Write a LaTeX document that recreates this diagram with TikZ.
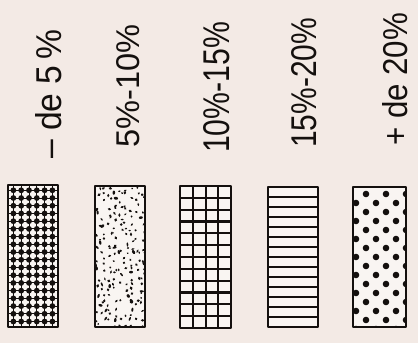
\documentclass[tikz,border=0pt]{standalone}
\usepackage{fontspec}
\setmainfont{Liberation Sans}
\usepackage{graphicx}
\definecolor{paper}{RGB}{243,234,229}
\definecolor{ink}{RGB}{20,16,14}
\begin{document}
\begin{tikzpicture}[x=1bp,y=-1bp,
  frame/.style={draw=ink,line width=2.6bp,line join=round},
  lab/.style={rotate=90,anchor=base west,inner sep=0pt,text=ink}]
\fill[paper] (0,0) rectangle (418,343);
\useasboundingbox (0,0) rectangle (418,343);

% labels
\node[lab] (l1) at (62,159) {\resizebox{129bp}{26bp}{– de 5\,\%}};
\node[lab] (l2) at (140,148) {\resizebox{123bp}{23bp}{5\%-10\%}};
\node[lab] (l3) at (230,153) {\resizebox{131bp}{26bp}{10\%-15\%}};
\node[lab] (l4) at (317,148) {\resizebox{130bp}{25bp}{15\%-20\%}};
\node[lab] (l5) at (407,146) {\resizebox{133bp}{25bp}{+ de 20\%}};

% box 1 : beaded grid
\fill[white!50!paper] (8,185) rectangle (58,327);
\begin{scope}
\clip (8,185) rectangle (58,327);
\foreach \c in {0,...,5}{
  \draw[ink,line width=0.9bp] ({13.4+7.8*\c},185) -- ({13.4+7.8*\c},327);}
\foreach \r in {0,...,17}{
  \draw[ink,line width=0.9bp] (8,{190.3+7.72*\r}) -- (58,{190.3+7.72*\r});
  \foreach \c in {0,...,5}{
    \fill[ink] ({13.4+7.8*\c},{190.3+7.72*\r}) circle (2.9bp);}}
\end{scope}
\node[frame,minimum width=50bp,minimum height=142bp,inner sep=0pt] (b1) at (33,256) {};

% box 2 : speckles (jittered grid)
\fill[white!50!paper] (95,186) rectangle (145,327);
\begin{scope}
\clip (95,186) rectangle (145,327);
\pgfmathsetseed{11}
\foreach \r in {0,...,27}{
  \foreach \c in {0,...,8}{
    \pgfmathsetmacro{\keep}{rnd}
    \pgfmathsetmacro{\px}{96+5.6*\c+4.5*rnd}
    \pgfmathsetmacro{\py}{187+5*\r+4.5*rnd}
    \pgfmathsetmacro{\rx}{1.0+1.2*rnd}
    \pgfmathsetmacro{\ry}{0.8+0.7*rnd}
    \pgfmathsetmacro{\ang}{180*rnd}
    \ifdim\keep pt<0.72pt
      \fill[ink,rotate around={\ang:(\px,\py)}] (\px,\py) ellipse ({\rx bp} and {\ry bp});
    \fi}}
\end{scope}
\node[frame,minimum width=50bp,minimum height=141bp,inner sep=0pt] (b2) at (120,256.5) {};

% box 3 : square grid
\fill[white!50!paper] (180,186) rectangle (231,328);
\foreach \c in {1,2,3}{
  \draw[ink,line width=2bp] ({180+12.75*\c},186) -- ({180+12.75*\c},328);}
\foreach \r in {1,...,11}{
  \draw[ink,line width=2.2bp] (180,{186+11.83*\r}) -- (231,{186+11.83*\r});}
\node[frame,minimum width=51bp,minimum height=142bp,inner sep=0pt] (b3) at (205.5,257) {};

% box 4 : horizontal lines
\fill[white!50!paper] (268,187) rectangle (318,327);
\foreach \r in {1,...,13}{
  \draw[ink,line width=1.8bp] (268,{187+10*\r}) -- (318,{187+10*\r});}
\node[frame,minimum width=50bp,minimum height=140bp,inner sep=0pt] (b4) at (293,257) {};

% box 5 : staggered dots
\fill[white!50!paper] (353,187) rectangle (406,327);
\begin{scope}
\clip (353,187) rectangle (406,327);
\foreach \r in {0,...,15}{
  \pgfmathsetmacro{\off}{mod(\r,2)==0 ? 13 : 3}
  \foreach \c in {0,1,2}{
    \fill[ink] ({353+\off+20*\c},{194+9*\r}) circle (3.3bp);}}
\end{scope}
\node[frame,minimum width=53bp,minimum height=140bp,inner sep=0pt] (b5) at (379.5,257) {};
\end{tikzpicture}
\end{document}
